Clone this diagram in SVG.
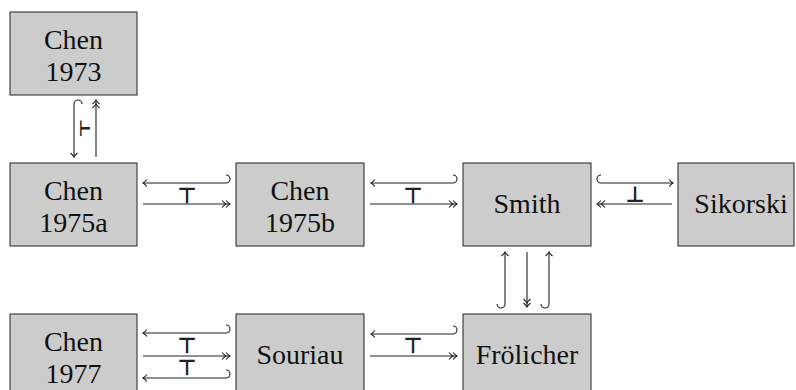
<svg xmlns="http://www.w3.org/2000/svg" width="796" height="390" viewBox="0 0 796 390">
<style>
.box{fill:#cccccc;stroke:#222;stroke-width:1}
.lbl{font-family:"Liberation Sans","Liberation Serif","Times New Roman",serif;font-family:"Liberation Serif","Times New Roman",serif;font-size:28px;fill:#111;text-anchor:middle}
.c{fill:none;stroke:#222;stroke-width:1.1}
.sym{font-family:"DejaVu Sans",sans-serif;font-size:22px;font-weight:bold;fill:#222;text-anchor:middle}
</style>
<defs>
<marker id="to" markerUnits="userSpaceOnUse" markerWidth="12" markerHeight="12" viewBox="-10 -6 12 12" refX="0" refY="0" orient="auto" overflow="visible">
<path d="M-4,-3.5 Q-1.5,-0.8 0,0 Q-1.5,0.8 -4,3.5" fill="none" stroke="#222" stroke-width="1.1"/>
</marker>
<marker id="two" markerUnits="userSpaceOnUse" markerWidth="14" markerHeight="12" viewBox="-12 -6 14 12" refX="0" refY="0" orient="auto" overflow="visible">
<path d="M-4,-3.5 Q-1.5,-0.8 0,0 Q-1.5,0.8 -4,3.5 M-8,-3.5 Q-5.5,-0.8 -4,0 Q-5.5,0.8 -8,3.5" fill="none" stroke="#222" stroke-width="1.1"/>
</marker>
</defs>
<g id="chen1973"><rect class="box" x="10" y="12" width="127" height="83"/><text class="lbl" x="73.5" y="49">Chen</text><text class="lbl" x="73.5" y="81">1973</text></g>
<g id="chen1975a"><rect class="box" x="10" y="163" width="127" height="83"/><text class="lbl" x="73.5" y="200">Chen</text><text class="lbl" x="73.5" y="232">1975a</text></g>
<g id="chen1975b"><rect class="box" x="236" y="163" width="128" height="83"/><text class="lbl" x="300" y="200">Chen</text><text class="lbl" x="300" y="232">1975b</text></g>
<g id="smith"><rect class="box" x="463" y="163" width="128" height="83"/><text class="lbl" x="527" y="213">Smith</text></g>
<g id="sikorski"><rect class="box" x="678" y="163" width="116" height="83"/><text class="lbl" x="741" y="213">Sikorski</text></g>
<g id="chen1977"><rect class="box" x="10" y="314" width="127" height="83"/><text class="lbl" x="73.5" y="351">Chen</text><text class="lbl" x="73.5" y="383">1977</text></g>
<g id="souriau"><rect class="box" x="236" y="314" width="128" height="83"/><text class="lbl" x="300" y="364">Souriau</text></g>
<g id="frolicher"><rect class="box" x="463" y="314" width="128" height="83"/><text class="lbl" x="527" y="364">Frölicher</text></g>
<g id="connectors">
<path class="c" d="M82,104 A4,4 0 0 0 74,104 L74,157" marker-end="url(#to)"/>
<path class="c" d="M96,157 L96,100" marker-end="url(#two)"/>
<text class="sym" x="85" y="136" textLength="12" lengthAdjust="spacingAndGlyphs">⊢</text>
<path class="c" d="M226,175 A4,4 0 0 1 226,183 L143,183" marker-end="url(#to)"/>
<path class="c" d="M143,204 L230,204" marker-end="url(#two)"/>
<text class="sym" x="187" y="202.5" textLength="19" lengthAdjust="spacingAndGlyphs">⊤</text>
<path class="c" d="M453,175 A4,4 0 0 1 453,183 L371,183" marker-end="url(#to)"/>
<path class="c" d="M370,204 L457,204" marker-end="url(#two)"/>
<text class="sym" x="413" y="202.5" textLength="19" lengthAdjust="spacingAndGlyphs">⊤</text>
<path class="c" d="M601,175 A4,4 0 0 0 601,183 L673,183" marker-end="url(#to)"/>
<path class="c" d="M672,204 L597,204" marker-end="url(#two)"/>
<text class="sym" x="635" y="201.5" textLength="19" lengthAdjust="spacingAndGlyphs">⊥</text>
<path class="c" d="M497,304 A4,4 0 0 0 505,304 L505,252" marker-end="url(#to)"/>
<path class="c" d="M527,252 L527,307" marker-end="url(#two)"/>
<path class="c" d="M541,304 A4,4 0 0 0 549,304 L549,252" marker-end="url(#to)"/>
<path class="c" d="M226,325 A4,4 0 0 1 226,333 L143,333" marker-end="url(#to)"/>
<path class="c" d="M143,356 L230,356" marker-end="url(#two)"/>
<path class="c" d="M226,370 A4,4 0 0 1 226,378 L143,378" marker-end="url(#to)"/>
<text class="sym" x="187" y="353" textLength="19" lengthAdjust="spacingAndGlyphs">⊤</text>
<text class="sym" x="187" y="375" textLength="19" lengthAdjust="spacingAndGlyphs">⊤</text>
<path class="c" d="M453,326 A4,4 0 0 1 453,334 L371,334" marker-end="url(#to)"/>
<path class="c" d="M370,356 L457,356" marker-end="url(#two)"/>
<text class="sym" x="413" y="353" textLength="19" lengthAdjust="spacingAndGlyphs">⊤</text>
</g>
</svg>
